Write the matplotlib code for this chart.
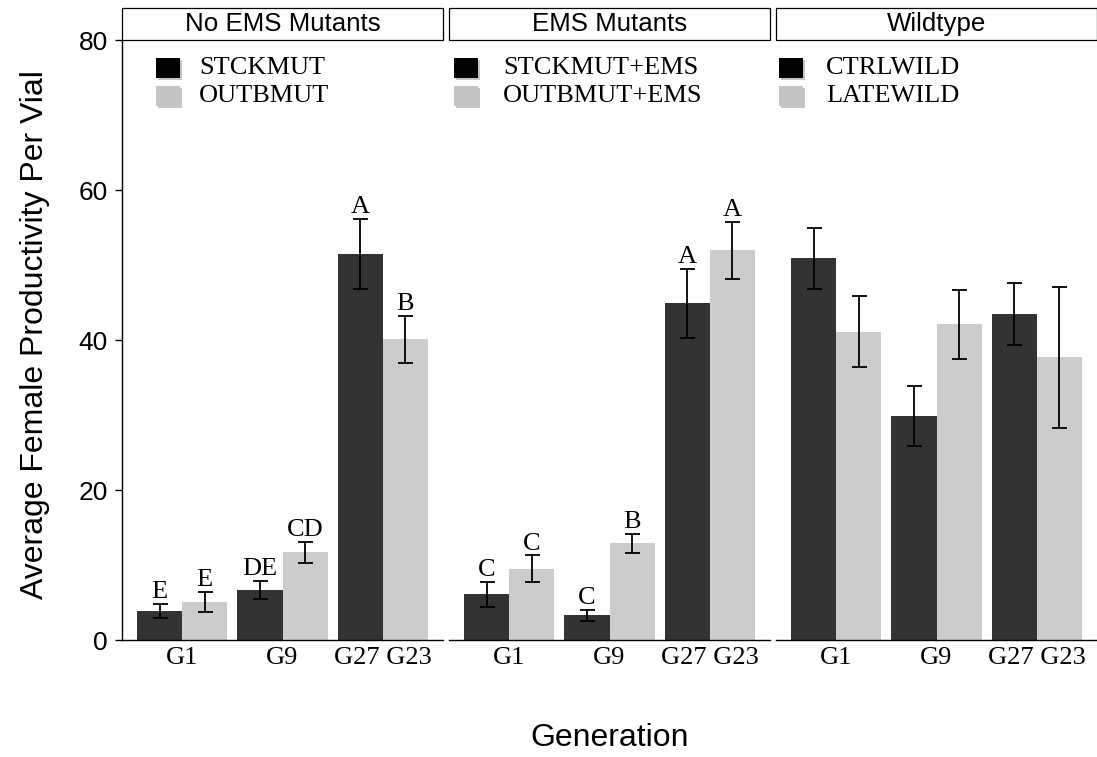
import matplotlib
matplotlib.use('Agg')
import matplotlib.pyplot as plt
import matplotlib.patheffects as pe
from matplotlib.patches import Rectangle
import numpy as np

# facets, generations and series
panels = ['No EMS Mutants', 'EMS Mutants', 'Wildtype']
gen_labels = ['G1', 'G9', 'G27 G23']
legend_labels = [['STCKMUT', 'OUTBMUT'],
                 ['STCKMUT+EMS', 'OUTBMUT+EMS'],
                 ['CTRLWILD', 'LATEWILD']]

# mean productivity per vial (dark series, light series) for each facet
dark_means = [[3.9, 6.7, 51.5], [6.1, 3.3, 44.9], [50.9, 29.9, 43.5]]
dark_err = [[0.95, 1.2, 4.7], [1.7, 0.75, 4.6], [4.05, 4.0, 4.1]]
light_means = [[5.1, 11.7, 40.1], [9.5, 12.9, 52.0], [41.1, 42.1, 37.7]]
light_err = [[1.3, 1.4, 3.15], [1.8, 1.3, 3.8], [4.7, 4.6, 9.4]]

# tukey groups above the bars (none for wildtype)
dark_letters = [['E', 'DE', 'A'], ['C', 'C', 'A'], None]
light_letters = [['E', 'CD', 'B'], ['C', 'B', 'A'], None]

y_ticks = [0, 20, 40, 60, 80]

DARK = '#333333'
LIGHT = '#cccccc'
SANS = 'Liberation Sans'
SERIF = 'Liberation Serif'

W, H = 1097, 757
panel_left = [122, 449, 776]
panel_w = 321
top_px, bottom_px = 40, 640
legend_key_x = [156, 454, 779]
legend_text_x = [199, 503, 826]


def px_box(left, top, width, height):
    return [left / W, 1 - (top + height) / H, width / W, height / H]


def draw_panel(fig, i):
    ax = fig.add_axes(px_box(panel_left[i], top_px, panel_w, bottom_px - top_px))
    x = np.arange(1, len(gen_labels) + 1)
    bw = 0.45
    xd = x - bw / 2
    xl = x + bw / 2

    ax.bar(xd, dark_means[i], width=bw, color=DARK, zorder=2)
    ax.bar(xl, light_means[i], width=bw, color=LIGHT, zorder=2)
    ax.errorbar(xd, dark_means[i], yerr=dark_err[i], fmt='none', ecolor='black',
                elinewidth=1.3, capsize=5.4, capthick=1.3, zorder=3)
    ax.errorbar(xl, light_means[i], yerr=light_err[i], fmt='none', ecolor='black',
                elinewidth=1.3, capsize=5.4, capthick=1.3, zorder=3)

    for xs, means, errs, letters in [(xd, dark_means[i], dark_err[i], dark_letters[i]),
                                     (xl, light_means[i], light_err[i], light_letters[i])]:
        if letters is None:
            continue
        for xx, m, e, t in zip(xs, means, errs, letters):
            ax.annotate(t, xy=(xx, m + e), xytext=(0, 4), textcoords='offset points',
                        ha='center', va='baseline', fontsize=19, family=SERIF)

    ax.set_xlim(0.4, 3.6)
    ax.set_ylim(0, 80)
    ax.set_xticks(x)
    ax.set_xticklabels(gen_labels, family=SERIF, fontsize=19)
    ax.tick_params(axis='x', length=0, pad=5)

    for s in ['top', 'right']:
        ax.spines[s].set_visible(False)
    ax.spines['bottom'].set_linewidth(1.0)
    if i == 0:
        ax.set_yticks(y_ticks)
        ax.set_yticklabels([str(v) for v in y_ticks], family=SANS, fontsize=19)
        ax.tick_params(axis='y', length=5, width=1, pad=5)
        ax.spines['left'].set_linewidth(1.0)
    else:
        ax.spines['left'].set_visible(False)
        ax.set_yticks([])

    # facet strip
    fig.patches.append(Rectangle((panel_left[i] / W, 1 - 40 / H), panel_w / W, 32 / H,
                                 transform=fig.transFigure, facecolor='white',
                                 edgecolor='black', linewidth=0.9))
    fig.text((panel_left[i] + panel_w / 2) / W, 1 - 24 / H, panels[i],
             ha='center', va='center', fontsize=18.6, family=SANS)

    # legend keys with a soft drop shadow
    shadow = [pe.withSimplePatchShadow(offset=(1.2, -1.2), shadow_rgbFace='gray', alpha=0.45),
              pe.Normal()]
    for k, (col, ytop) in enumerate([('black', 58), ('#c4c4c4', 86)]):
        r = Rectangle((legend_key_x[i] / W, 1 - (ytop + 20) / H), 24 / W, 20 / H,
                      transform=fig.transFigure, facecolor=col, edgecolor='none')
        r.set_path_effects(shadow)
        fig.patches.append(r)
        fig.text(legend_text_x[i] / W, 1 - (ytop + 10) / H, legend_labels[i][k],
                 ha='left', va='center', fontsize=19, family=SERIF)
    return ax


def main():
    fig = plt.figure(figsize=(W / 100, H / 100), dpi=100)
    for i in range(len(panels)):
        draw_panel(fig, i)

    fig.text(35 / W, 1 - 335 / H, 'Average Female Productivity Per Vial', rotation=90,
             ha='center', va='center', fontsize=23, family=SANS)
    fig.text(610 / W, 1 - 738 / H, 'Generation', ha='center', va='center',
             fontsize=23, family=SANS)

    fig.savefig('out.png', dpi=100)


if __name__ == '__main__':
    main()
